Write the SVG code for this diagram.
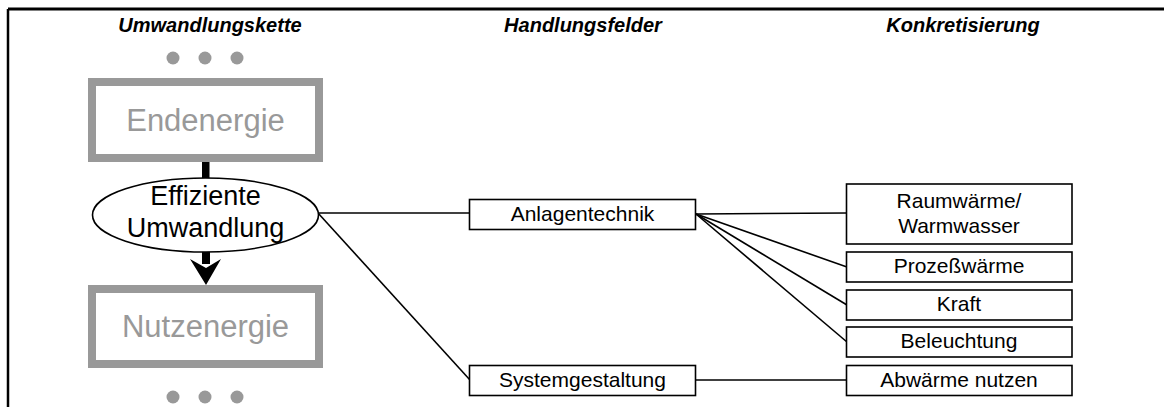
<svg xmlns="http://www.w3.org/2000/svg" width="1164" height="407" viewBox="0 0 1164 407">
  <style>
    .hdr { font-family: "Liberation Sans", Arial, sans-serif; font-size: 20px; font-weight: bold; font-style: italic; fill: #000; text-anchor: middle; }
    .lbl { font-family: "Liberation Sans", Arial, sans-serif; font-size: 21px; fill: #000; text-anchor: middle; }
    .big { font-family: "Liberation Sans", Arial, sans-serif; font-size: 31px; fill: #999; text-anchor: middle; }
    .ell { font-family: "Liberation Sans", Arial, sans-serif; font-size: 27px; fill: #000; text-anchor: middle; }
    .box { fill: #fff; stroke: #000; stroke-width: 1.6; }
    .stage { fill: #fff; stroke: #999; stroke-width: 8; }
    .dot { fill: #999; }
    .link { stroke: #000; stroke-width: 1.6; fill: none; }
  </style>

  <rect width="1164" height="407" fill="#fff"/>

  <!-- frame: top rule and left rule -->
  <g id="frame" stroke="#000" fill="none">
    <line x1="8" y1="9" x2="1164" y2="9" stroke-width="3"/>
    <line x1="8" y1="9" x2="8" y2="407" stroke-width="2.5"/>
  </g>

  <!-- column headings -->
  <g id="headings">
    <text class="hdr" x="210" y="32">Umwandlungskette</text>
    <text class="hdr" x="583" y="32">Handlungsfelder</text>
    <text class="hdr" x="963" y="32">Konkretisierung</text>
  </g>

  <!-- ellipsis dots above and below the chain -->
  <g id="dots-top">
    <circle class="dot" cx="173" cy="58" r="6.5"/>
    <circle class="dot" cx="205" cy="58" r="6.5"/>
    <circle class="dot" cx="237" cy="58" r="6.5"/>
  </g>
  <g id="dots-bottom">
    <circle class="dot" cx="173" cy="397" r="6.5"/>
    <circle class="dot" cx="205" cy="397" r="6.5"/>
    <circle class="dot" cx="237" cy="397" r="6.5"/>
  </g>

  <!-- connectors -->
  <g id="connectors">
    <rect x="202" y="162" width="7.5" height="17" fill="#000"/>
    <rect x="202" y="250" width="8" height="14" fill="#000"/>
    <path d="M190 259 L206 268 L221 259 L206 285 Z" fill="#000"/>
    <line class="link" x1="318" y1="213" x2="470" y2="213"/>
    <line class="link" x1="318" y1="213" x2="470" y2="380"/>
    <line class="link" x1="696" y1="214" x2="847" y2="213"/>
    <line class="link" x1="696" y1="214" x2="847" y2="267"/>
    <line class="link" x1="696" y1="214" x2="847" y2="305"/>
    <line class="link" x1="696" y1="214" x2="847" y2="342"/>
    <line class="link" x1="696" y1="380" x2="847" y2="380"/>
  </g>

  <g id="endenergie">
    <rect class="stage" x="92" y="82" width="227" height="76"/>
    <text class="big" x="205.5" y="131">Endenergie</text>
  </g>

  <g id="umwandlung">
    <ellipse cx="205.5" cy="215" rx="113" ry="37" fill="#fff" stroke="#000" stroke-width="1.6"/>
    <text class="ell" x="205.5" y="205">Effiziente</text>
    <text class="ell" x="205.5" y="237">Umwandlung</text>
  </g>

  <g id="nutzenergie">
    <rect class="stage" x="92" y="289" width="227" height="75"/>
    <text class="big" x="205.5" y="337">Nutzenergie</text>
  </g>

  <g id="anlagentechnik">
    <rect class="box" x="469.5" y="199.5" width="226" height="30"/>
    <text class="lbl" x="582.5" y="221">Anlagentechnik</text>
  </g>

  <g id="systemgestaltung">
    <rect class="box" x="469.5" y="365.5" width="226" height="30"/>
    <text class="lbl" x="582.5" y="387">Systemgestaltung</text>
  </g>

  <g id="raumwaerme">
    <rect class="box" x="846.5" y="184" width="225.5" height="60"/>
    <text class="lbl" x="959" y="208">Raumwärme/</text>
    <text class="lbl" x="959" y="233">Warmwasser</text>
  </g>

  <g id="prozesswaerme">
    <rect class="box" x="846.5" y="252" width="225.5" height="30"/>
    <text class="lbl" x="959" y="273">Prozeßwärme</text>
  </g>

  <g id="kraft">
    <rect class="box" x="846.5" y="290" width="225.5" height="30"/>
    <text class="lbl" x="959" y="311">Kraft</text>
  </g>

  <g id="beleuchtung">
    <rect class="box" x="846.5" y="327" width="225.5" height="30"/>
    <text class="lbl" x="959" y="348">Beleuchtung</text>
  </g>

  <g id="abwaerme">
    <rect class="box" x="846.5" y="365.5" width="225.5" height="30"/>
    <text class="lbl" x="959" y="387">Abwärme nutzen</text>
  </g>
</svg>
